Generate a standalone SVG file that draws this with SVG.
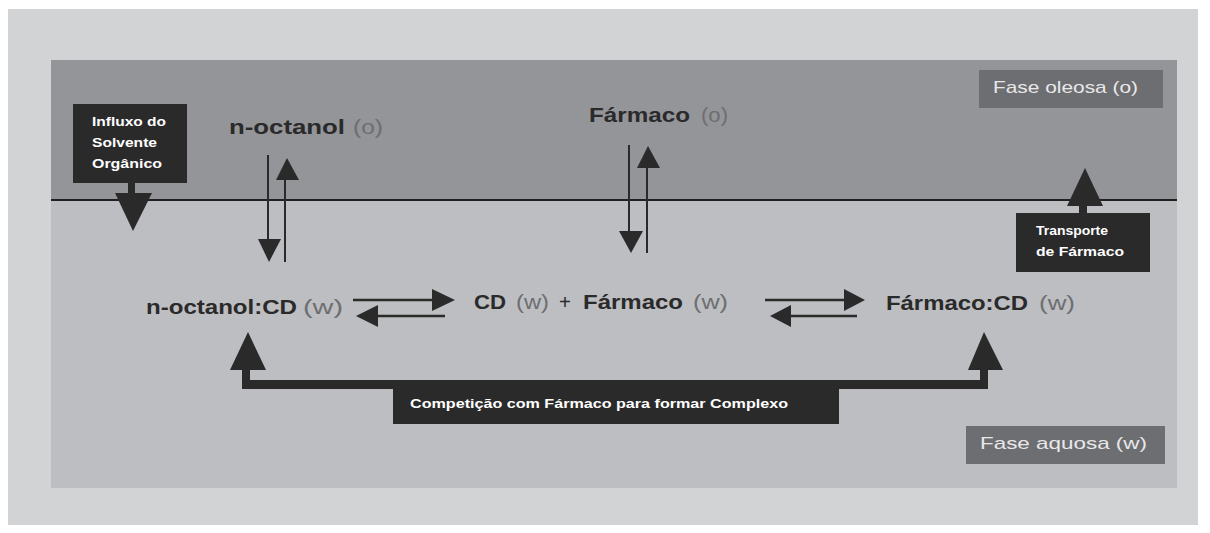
<svg xmlns="http://www.w3.org/2000/svg" width="1210" height="533" viewBox="0 0 1210 533">
<style>
.dk{fill:#2b2a2b}
.lbl{font-family:"Liberation Sans",Arial,sans-serif;font-size:20px;fill:#2b2a2b}
.b{font-weight:bold}
.lt{fill:#6d6e71;font-weight:normal}
.wt{font-family:"Liberation Sans",Arial,sans-serif;font-size:12px;font-weight:bold;fill:#ffffff}
.ph{font-family:"Liberation Sans",Arial,sans-serif;font-size:17px;fill:#e8e8e9}
.ln{stroke:#2b2a2b;fill:none}
</style>
<rect width="1210" height="533" fill="#ffffff"/>
<rect x="8" y="9" width="1190" height="516" fill="#d2d3d5"/>
<g id="aqueous-phase"><rect x="51" y="60" width="1126" height="428" fill="#bdbec1"/></g>
<g id="oil-phase"><rect x="51" y="60" width="1126" height="140" fill="#939598"/></g>
<line x1="51" y1="200" x2="1177" y2="200" stroke="#231f20" stroke-width="2"/>

<g id="fase-oleosa">
<rect x="979" y="70" width="184" height="38" fill="#6d6e71"/>
<text class="ph" x="993" y="93" textLength="145" lengthAdjust="spacingAndGlyphs">Fase oleosa (o)</text>
</g>
<g id="fase-aquosa">
<rect x="966" y="426" width="199" height="38" fill="#6d6e71"/>
<text class="ph" x="980" y="449" textLength="167" lengthAdjust="spacingAndGlyphs">Fase aquosa (w)</text>
</g>

<g id="influxo">
<rect class="dk" x="73" y="104" width="114" height="79"/>
<text class="wt" x="92" y="126" textLength="74" lengthAdjust="spacingAndGlyphs">Influxo do</text>
<text class="wt" x="92" y="147" textLength="65" lengthAdjust="spacingAndGlyphs">Solvente</text>
<text class="wt" x="92" y="168" textLength="70" lengthAdjust="spacingAndGlyphs">Orgânico</text>
</g>

<g id="transporte">
<rect class="dk" x="1016" y="213" width="134" height="59"/>
<text class="wt" x="1036" y="235" textLength="72" lengthAdjust="spacingAndGlyphs">Transporte</text>
<text class="wt" x="1036" y="256" textLength="88" lengthAdjust="spacingAndGlyphs">de Fármaco</text>
</g>

<g id="competicao">
<rect class="dk" x="393" y="380" width="446" height="44"/>
<text class="wt" x="410" y="408" textLength="378" lengthAdjust="spacingAndGlyphs">Competição com Fármaco para formar Complexo</text>
</g>

<g id="n-octanol-o">
<text class="lbl b" x="229" y="134" textLength="116" lengthAdjust="spacingAndGlyphs">n-octanol</text>
<text class="lbl lt" x="353" y="134" textLength="30" lengthAdjust="spacingAndGlyphs">(o)</text>
</g>
<g id="farmaco-o">
<text class="lbl b" x="589" y="122" textLength="101" lengthAdjust="spacingAndGlyphs">Fármaco</text>
<text class="lbl lt" x="701" y="122" textLength="27" lengthAdjust="spacingAndGlyphs">(o)</text>
</g>
<g id="n-octanol-cd">
<text class="lbl b" x="146" y="314" textLength="151" lengthAdjust="spacingAndGlyphs">n-octanol:CD</text>
<text class="lbl lt" x="303" y="314" textLength="40" lengthAdjust="spacingAndGlyphs">(w)</text>
</g>
<g id="cd-farmaco">
<text class="lbl b" x="474" y="309" textLength="32" lengthAdjust="spacingAndGlyphs">CD</text>
<text class="lbl lt" x="516" y="309" textLength="33" lengthAdjust="spacingAndGlyphs">(w)</text>
<text class="lbl" x="559" y="309" textLength="12" lengthAdjust="spacingAndGlyphs">+</text>
<text class="lbl b" x="583" y="309" textLength="100" lengthAdjust="spacingAndGlyphs">Fármaco</text>
<text class="lbl lt" x="693" y="309" textLength="35" lengthAdjust="spacingAndGlyphs">(w)</text>
</g>
<g id="farmaco-cd">
<text class="lbl b" x="886" y="310" textLength="142" lengthAdjust="spacingAndGlyphs">Fármaco:CD</text>
<text class="lbl lt" x="1039" y="310" textLength="36" lengthAdjust="spacingAndGlyphs">(w)</text>
</g>

<g id="connectors">
<rect class="dk" x="128" y="183" width="7" height="11"/>
<polygon class="dk" points="115,193 152,193 133,231"/>
<rect class="dk" x="1079" y="205" width="8" height="9"/>
<polygon class="dk" points="1067,206 1103,206 1085,168"/>
<line class="ln" x1="268" y1="155" x2="268" y2="240" stroke-width="2"/>
<polygon class="dk" points="258,239 281,239 269,262"/>
<line class="ln" x1="285" y1="262" x2="285" y2="179" stroke-width="2"/>
<polygon class="dk" points="276,180 299,180 287,158"/>
<line class="ln" x1="629" y1="145" x2="629" y2="232" stroke-width="2"/>
<polygon class="dk" points="619,231 643,231 631,253"/>
<line class="ln" x1="647" y1="253" x2="647" y2="167" stroke-width="2"/>
<polygon class="dk" points="637,168 660,168 648,146"/>
<line class="ln" x1="353" y1="300" x2="433" y2="300" stroke-width="2.5"/>
<polygon class="dk" points="432,289 455,300 432,311"/>
<line class="ln" x1="445" y1="316" x2="377" y2="316" stroke-width="2.5"/>
<polygon class="dk" points="378,305 356,316 378,327"/>
<line class="ln" x1="765" y1="300" x2="845" y2="300" stroke-width="2.5"/>
<polygon class="dk" points="844,289 865,300 844,311"/>
<line class="ln" x1="857" y1="316" x2="790" y2="316" stroke-width="2.5"/>
<polygon class="dk" points="791,305 770,316 791,327"/>
<path class="dk" d="M242,370 L250,370 L250,380 L980,380 L980,370 L988,370 L988,389 L242,389 Z"/>
<polygon class="dk" points="230,370 266,370 248,332"/>
<polygon class="dk" points="968,370 1003,370 984,332"/>
</g>
</svg>
